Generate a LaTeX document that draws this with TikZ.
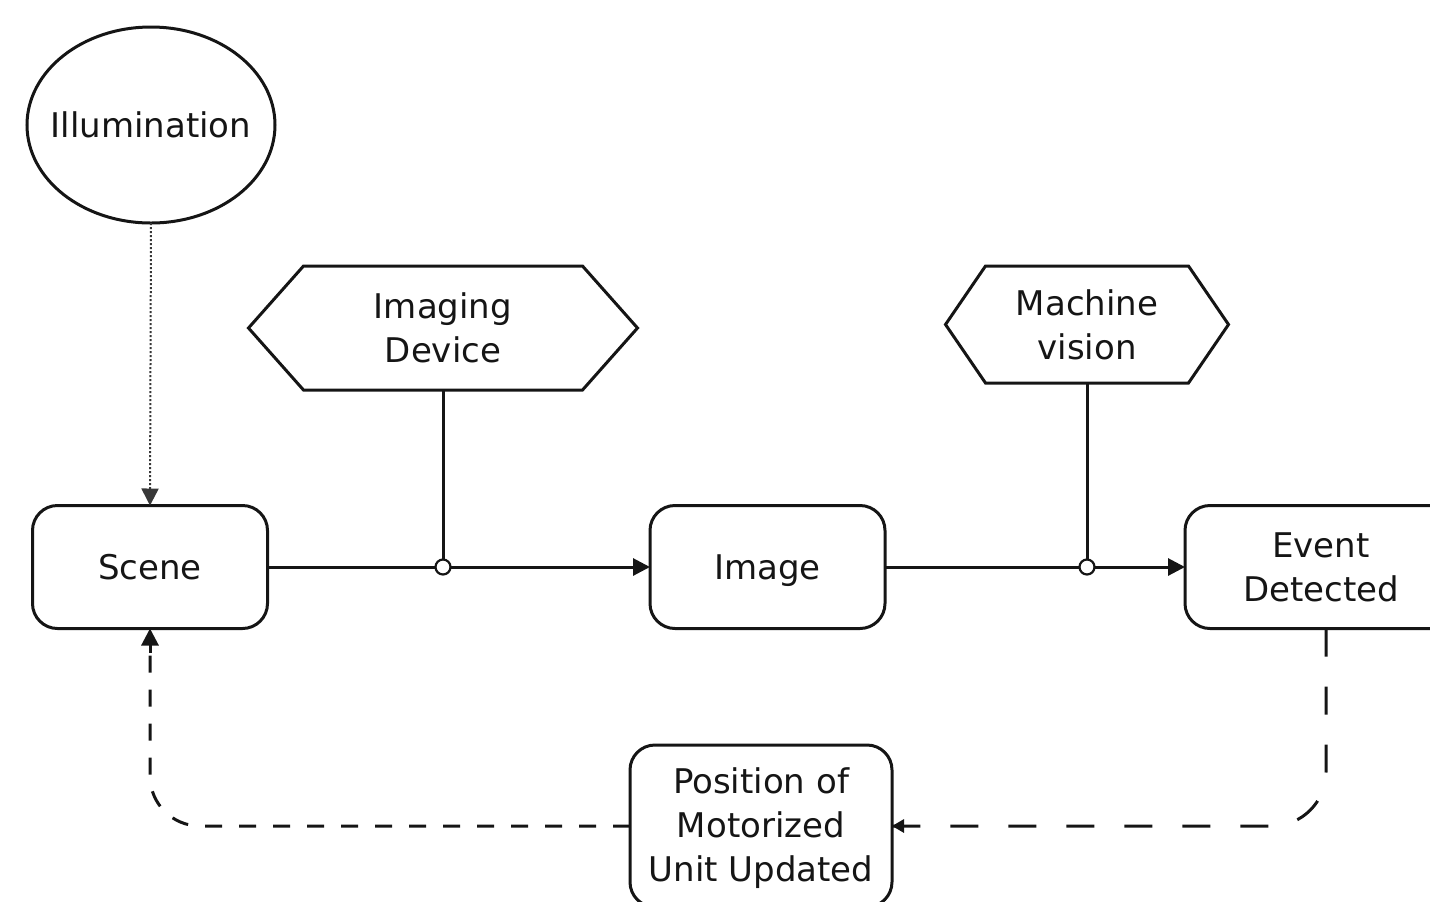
\documentclass[tikz,border=0pt]{standalone}
\usepackage{fontspec}
\setmainfont{DejaVu Sans}
\usetikzlibrary{shapes.geometric,arrows.meta,calc}
\definecolor{ink}{HTML}{151515}
\begin{document}
\begin{tikzpicture}[x=0.5pt,y=-0.5pt,
  every node/.style={font=\fontsize{17}{22}\selectfont, text=ink, align=center, inner sep=0pt, outer sep=0pt},
  boxnode/.style={draw=ink, line width=1.5pt, rounded corners=12.5pt, minimum height=61.5pt, minimum width=117.5pt},
  shapeline/.style={draw=ink, line width=1.5pt, line join=miter},
  conn/.style={draw=ink, line width=1.5pt},
  tip/.style={-{Triangle[length=8.5pt,width=8.5pt]}},
  smalltip/.style={-{Triangle[length=6pt,width=6.5pt]}},
  junc/.style={circle, draw=ink, fill=white, line width=1.1pt, minimum size=7.5pt},
  dotline/.style={draw=ink!85, line width=1pt, densely dotted},
  shortdash/.style={draw=ink, line width=1.5pt, dash pattern=on 8.5pt off 8.5pt},
  longdash/.style={draw=ink, line width=1.5pt, dash pattern=on 14pt off 15pt}
]
\useasboundingbox (0,0) rectangle (1430,901);
\clip (0,0) rectangle (1430,901);

% nodes
\node[ellipse, draw=ink, line width=1.5pt, minimum width=124pt, minimum height=98pt] (illum) at (151,125) {\makebox[0pt]{Illumination}};

\node[minimum width=194.5pt, minimum height=62pt] (imgdev) at (443,328) {Imaging\\Device};
\draw[shapeline] (imgdev.west) -- ($(imgdev.north west)+(55,0)$) -- ($(imgdev.north east)+(-55,0)$) -- (imgdev.east) -- ($(imgdev.south east)+(-55,0)$) -- ($(imgdev.south west)+(55,0)$) -- cycle;

\node[minimum width=141.5pt, minimum height=58.5pt] (mv) at (1087,324.5) {Machine\\vision};
\draw[shapeline] (mv.west) -- ($(mv.north west)+(40,0)$) -- ($(mv.north east)+(-40,0)$) -- (mv.east) -- ($(mv.south east)+(-40,0)$) -- ($(mv.south west)+(40,0)$) -- cycle;

\node[boxnode] (scene) at (150,567) {Scene};
\node[boxnode] (image) at (767.5,567) {\raisebox{0pt}[\height][0pt]{Image}};
\node[boxnode, minimum width=136pt] (event) at (1321,567) {Event\\Detected};
\node[boxnode, minimum width=131pt, minimum height=81pt] (pos) at (761,826) {\raisebox{1.75pt}[\height][0pt]{\begin{tabular}[b]{@{}c@{}}Position of\\Motorized\\Unit Updated\end{tabular}}};

% junctions
\node[junc] (j1) at (imgdev.south |- scene.east) {};
\node[junc] (j2) at (mv.south |- image.east) {};

% connectors
\draw[dotline, tip] (illum.south) -- (scene.north);
\draw[conn] (scene.east) -- (j1);
\draw[conn, tip] (j1) -- (image.west);
\draw[conn] (imgdev.south) -- (j1);
\draw[conn] (image.east) -- (j2);
\draw[conn, tip] (j2) -- (event.west);
\draw[conn] (mv.south) -- (j2);

\coordinate (ev) at ([xshift=2.5pt]event.south);
\draw[longdash, rounded corners=27pt] (ev) -- (ev |- pos.east) -- (pos.east);
\draw[conn, smalltip] ([xshift=6pt]pos.east) -- (pos.east);
\draw[shortdash, rounded corners=25pt] (pos.west) -- (scene.south |- pos.west) -- ([yshift=-6pt]scene.south);
\draw[conn, tip] ([yshift=-12pt]scene.south) -- (scene.south);
\end{tikzpicture}
\end{document}
